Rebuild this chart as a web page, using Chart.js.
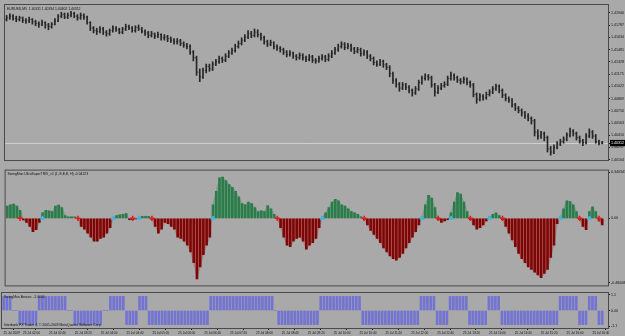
<!DOCTYPE html>
<html>
<head>
<meta charset="utf-8">
<script src="https://cdn.jsdelivr.net/npm/chart.js@4.4.0/dist/chart.umd.min.js"></script>
<style>
  body { margin: 0; background: #a9a9a9; width: 625px; height: 336px; overflow: hidden; position: relative; }
  canvas { position: absolute; left: 0; }
</style>
</head>
<body>
<canvas id="price" width="625" height="165" style="top:0"></canvas>
<canvas id="trix" width="625" height="126" style="top:165px"></canvas>
<canvas id="arrows" width="625" height="45" style="top:291px"></canvas>
<script>
// EURUSD M5, 25 Jul 2009, one entry per bar
const opens = [1.4186,1.4188,1.4190,1.4187,1.4186,1.4188,1.4185,1.4184,1.4186,1.4183,1.4181,1.4180,1.4182,1.4179,1.4177,1.4180,1.4184,1.4190,1.4192,1.4189,
  1.4191,1.4193,1.4190,1.4188,1.4191,1.4189,1.4182,1.4175,1.4172,1.4171,1.4174,1.4170,1.4168,1.4172,1.4175,1.4173,1.4170,1.4174,1.4177,1.4175,
  1.4172,1.4176,1.4174,1.4171,1.4169,1.4166,1.4168,1.4165,1.4167,1.4163,1.4164,1.4162,1.4160,1.4158,1.4159,1.4156,1.4154,1.4152,1.4145,1.4138,
  1.4120,1.4114,1.4122,1.4127,1.4124,1.4130,1.4133,1.4137,1.4135,1.4140,1.4144,1.4147,1.4152,1.4156,1.4160,1.4164,1.4168,1.4166,1.4170,1.4167,
  1.4163,1.4158,1.4155,1.4157,1.4152,1.4150,1.4148,1.4145,1.4142,1.4144,1.4140,1.4138,1.4141,1.4138,1.4136,1.4139,1.4135,1.4134,1.4137,1.4139,
  1.4136,1.4140,1.4144,1.4148,1.4152,1.4155,1.4151,1.4153,1.4149,1.4146,1.4148,1.4143,1.4145,1.4140,1.4137,1.4132,1.4130,1.4133,1.4129,1.4126,
  1.4118,1.4110,1.4105,1.4100,1.4104,1.4101,1.4097,1.4094,1.4099,1.4107,1.4112,1.4115,1.4113,1.4104,1.4095,1.4100,1.4103,1.4105,1.4112,1.4116,
  1.4113,1.4110,1.4108,1.4111,1.4107,1.4104,1.4092,1.4086,1.4090,1.4088,1.4092,1.4095,1.4099,1.4102,1.4097,1.4091,1.4087,1.4085,1.4079,1.4075,
  1.4072,1.4069,1.4065,1.4062,1.4059,1.4045,1.4040,1.4043,1.4038,1.4024,1.4020,1.4026,1.4030,1.4033,1.4036,1.4041,1.4046,1.4043,1.4038,1.4034,
  1.4032,1.4040,1.4045,1.4040,1.4033,1.40311];
const highs = [1.4191,1.4193,1.4192,1.4190,1.4190,1.4189,1.4187,1.4189,1.4187,1.4185,1.4183,1.4185,1.4183,1.4181,1.4182,1.4187,1.4192,1.4195,1.4194,1.4194,
  1.4196,1.4195,1.4192,1.4194,1.4193,1.4190,1.4183,1.4177,1.4175,1.4177,1.4176,1.4172,1.4174,1.4178,1.4177,1.4175,1.4176,1.4180,1.4179,1.4177,
  1.4178,1.4179,1.4176,1.4173,1.4171,1.4171,1.4169,1.4170,1.4168,1.4167,1.4166,1.4164,1.4162,1.4162,1.4161,1.4158,1.4156,1.4154,1.4147,1.4140,
  1.4124,1.4125,1.4130,1.4130,1.4133,1.4136,1.4140,1.4139,1.4143,1.4147,1.4150,1.4155,1.4159,1.4163,1.4167,1.4172,1.4171,1.4174,1.4173,1.4169,
  1.4165,1.4160,1.4160,1.4158,1.4154,1.4152,1.4150,1.4147,1.4147,1.4145,1.4142,1.4144,1.4143,1.4140,1.4142,1.4141,1.4137,1.4140,1.4142,1.4141,
  1.4143,1.4147,1.4151,1.4155,1.4158,1.4157,1.4156,1.4155,1.4151,1.4151,1.4150,1.4148,1.4147,1.4142,1.4139,1.4134,1.4136,1.4135,1.4131,1.4128,
  1.4120,1.4112,1.4107,1.4107,1.4106,1.4103,1.4099,1.4102,1.4110,1.4115,1.4118,1.4117,1.4115,1.4106,1.4103,1.4106,1.4108,1.4115,1.4120,1.4118,
  1.4115,1.4112,1.4114,1.4113,1.4109,1.4106,1.4094,1.4093,1.4092,1.4095,1.4098,1.4102,1.4105,1.4104,1.4099,1.4093,1.4089,1.4087,1.4081,1.4077,
  1.4074,1.4071,1.4068,1.4064,1.4061,1.4048,1.4046,1.4045,1.4040,1.4027,1.4029,1.4033,1.4036,1.4039,1.4044,1.4050,1.4048,1.4045,1.4040,1.4036,
  1.4043,1.4049,1.4047,1.4042,1.4035,1.40334];
const lows = [1.4184,1.4186,1.4185,1.4183,1.4184,1.4182,1.4181,1.4182,1.4180,1.4178,1.4176,1.4178,1.4175,1.4173,1.4175,1.4179,1.4183,1.4188,1.4187,1.4187,
  1.4189,1.4188,1.4185,1.4186,1.4186,1.4180,1.4172,1.4169,1.4167,1.4169,1.4167,1.4165,1.4166,1.4170,1.4171,1.4168,1.4168,1.4172,1.4173,1.4170,
  1.4170,1.4172,1.4169,1.4166,1.4163,1.4164,1.4162,1.4163,1.4160,1.4160,1.4158,1.4157,1.4155,1.4155,1.4153,1.4151,1.4149,1.4142,1.4134,1.4116,
  1.4108,1.4112,1.4119,1.4121,1.4122,1.4128,1.4131,1.4132,1.4133,1.4138,1.4142,1.4145,1.4150,1.4154,1.4158,1.4162,1.4163,1.4164,1.4164,1.4160,
  1.4155,1.4152,1.4153,1.4149,1.4147,1.4145,1.4142,1.4139,1.4140,1.4137,1.4135,1.4136,1.4135,1.4133,1.4134,1.4132,1.4131,1.4132,1.4135,1.4133,
  1.4134,1.4138,1.4142,1.4146,1.4150,1.4148,1.4149,1.4146,1.4143,1.4144,1.4140,1.4141,1.4137,1.4134,1.4129,1.4127,1.4128,1.4126,1.4123,1.4114,
  1.4106,1.4101,1.4096,1.4098,1.4098,1.4094,1.4090,1.4092,1.4097,1.4105,1.4110,1.4110,1.4101,1.4090,1.4093,1.4098,1.4101,1.4103,1.4110,1.4110,
  1.4107,1.4105,1.4106,1.4104,1.4101,1.4089,1.4081,1.4084,1.4085,1.4086,1.4090,1.4093,1.4097,1.4094,1.4088,1.4084,1.4082,1.4076,1.4072,1.4069,
  1.4065,1.4062,1.4059,1.4055,1.4040,1.4036,1.4037,1.4034,1.4020,1.4016,1.4018,1.4024,1.4028,1.4031,1.4034,1.4039,1.4040,1.4035,1.4031,1.4028,
  1.4030,1.4038,1.4037,1.4031,1.4029,1.40302];
const closes = [1.4188,1.4190,1.4187,1.4186,1.4188,1.4185,1.4184,1.4186,1.4183,1.4181,1.4180,1.4182,1.4179,1.4177,1.4180,1.4184,1.4190,1.4192,1.4189,1.4191,
  1.4193,1.4190,1.4188,1.4191,1.4189,1.4182,1.4175,1.4172,1.4171,1.4174,1.4170,1.4168,1.4172,1.4175,1.4173,1.4170,1.4174,1.4177,1.4175,1.4172,
  1.4176,1.4174,1.4171,1.4169,1.4166,1.4168,1.4165,1.4167,1.4163,1.4164,1.4162,1.4160,1.4158,1.4159,1.4156,1.4154,1.4152,1.4145,1.4138,1.4120,
  1.4114,1.4122,1.4127,1.4124,1.4130,1.4133,1.4137,1.4135,1.4140,1.4144,1.4147,1.4152,1.4156,1.4160,1.4164,1.4168,1.4166,1.4170,1.4167,1.4163,
  1.4158,1.4155,1.4157,1.4152,1.4150,1.4148,1.4145,1.4142,1.4144,1.4140,1.4138,1.4141,1.4138,1.4136,1.4139,1.4135,1.4134,1.4137,1.4139,1.4136,
  1.4140,1.4144,1.4148,1.4152,1.4155,1.4151,1.4153,1.4149,1.4146,1.4148,1.4143,1.4145,1.4140,1.4137,1.4132,1.4130,1.4133,1.4129,1.4126,1.4118,
  1.4110,1.4105,1.4100,1.4104,1.4101,1.4097,1.4094,1.4099,1.4107,1.4112,1.4115,1.4113,1.4104,1.4095,1.4100,1.4103,1.4105,1.4112,1.4116,1.4113,
  1.4110,1.4108,1.4111,1.4107,1.4104,1.4092,1.4086,1.4090,1.4088,1.4092,1.4095,1.4099,1.4102,1.4097,1.4091,1.4087,1.4085,1.4079,1.4075,1.4072,
  1.4069,1.4065,1.4062,1.4059,1.4045,1.4040,1.4043,1.4038,1.4024,1.4020,1.4026,1.4030,1.4033,1.4036,1.4041,1.4046,1.4043,1.4038,1.4034,1.4032,
  1.4040,1.4045,1.4040,1.4033,1.4031,1.40312];

// SwingMan UltraSuperTRIX histogram
const trix = [0.09,0.10,0.105,0.09,0.06,-0.012,-0.03,-0.06,-0.1,-0.085,-0.03,0.04,0.06,0.055,0.05,0.09,0.098,0.08,0.02,0.01,
  0.01,0.01,-0.005,-0.06,-0.08,-0.11,-0.14,-0.17,-0.17,-0.15,-0.14,-0.11,-0.07,0.005,0.02,0.025,0.03,0.035,-0.01,-0.01,
  -0.005,0.005,0.015,0.015,0.015,-0.01,-0.06,-0.11,-0.08,-0.03,-0.04,-0.06,-0.08,-0.14,-0.15,-0.17,-0.2,-0.25,-0.33,-0.45,
  -0.36,-0.27,-0.2,-0.14,0.1,0.2,0.3,0.305,0.28,0.25,0.23,0.2,0.16,0.11,0.1,0.12,0.11,0.08,0.05,0.055,
  0.05,0.095,0.07,0.03,-0.005,-0.07,-0.14,-0.2,-0.21,-0.17,-0.15,-0.14,-0.17,-0.23,-0.2,-0.18,-0.15,-0.07,0.01,0.04,
  0.08,0.12,0.14,0.13,0.1,0.09,0.07,0.05,0.04,0.03,0.01,-0.01,-0.05,-0.09,-0.12,-0.15,-0.18,-0.22,-0.25,-0.28,
  -0.3,-0.31,-0.29,-0.26,-0.22,-0.18,-0.14,-0.1,-0.05,0.01,0.1,0.17,0.15,0.08,-0.01,-0.03,-0.02,-0.01,0.04,0.12,
  0.19,0.18,0.12,0.05,-0.01,-0.05,-0.08,-0.07,-0.05,-0.02,0.01,0.03,0.04,0.02,-0.01,-0.06,-0.11,-0.16,-0.21,-0.26,
  -0.3,-0.33,-0.36,-0.38,-0.4,-0.42,-0.44,-0.41,-0.38,-0.29,-0.2,-0.04,0.01,0.07,0.13,0.125,0.1,0.05,-0.01,-0.06,
  -0.085,0.05,0.085,0.05,-0.02,-0.05];
const arrowUpBars = [11, 33, 41, 64, 98, 129, 138, 150, 172, 181];
const arrowDownBars = [4, 22, 39, 45, 84, 111, 134, 144, 154, 178, 184];

// SwingMan Arrows: +1 / -1 per bar (0 = nothing drawn)
const signal = [1,1,1,0,0,-1,-1,-1,-1,-1,-1,1,1,1,1,1,1,1,1,1,
  0,0,-1,-1,-1,-1,-1,-1,-1,-1,-1,0,0,1,1,1,1,1,-1,-1,
  -1,-1,1,1,1,-1,-1,-1,-1,-1,-1,-1,-1,-1,-1,-1,-1,-1,-1,-1,
  -1,-1,-1,-1,1,1,1,1,1,1,1,1,1,1,1,1,1,1,1,1,
  1,1,1,1,0,-1,-1,-1,-1,-1,-1,-1,-1,-1,-1,-1,-1,-1,1,1,
  1,1,1,1,1,1,1,1,1,1,1,-1,-1,-1,-1,-1,-1,-1,-1,-1,
  -1,-1,-1,-1,-1,-1,-1,-1,-1,1,1,1,1,1,-1,-1,-1,-1,1,1,
  1,1,1,1,-1,-1,-1,-1,-1,-1,1,1,1,1,-1,-1,-1,-1,-1,-1,
  -1,-1,-1,-1,-1,-1,-1,-1,-1,-1,-1,-1,1,1,1,1,1,1,-1,-1,
  -1,1,1,1,-1,-1];

const priceTicks = [1.41940,1.41787,1.41634,1.41481,1.41328,1.41175,1.41022,1.40869,1.40716,1.40563,1.40410,1.40257,1.40104];
const bid = 1.40312;
const trixTicks = [0.340341, 0, -0.480085];
const trixTickLabels = ["0.340341", "0.00", "-0.480085"];
const signalTicks = [1.1, 0, -1.1];
const signalTickLabels = ["1.1", "0.00", "-1.1"];

const timeBars = [0, 6, 14, 22, 30, 38, 46, 54, 62, 70, 78, 86, 94, 102, 110, 118, 126, 134, 142, 150, 158, 166, 174, 182];
const timeLabels = ["25 Jul 2009", "25 Jul 02:00", "25 Jul 02:40", "25 Jul 03:20", "25 Jul 04:00", "25 Jul 04:40",
  "25 Jul 05:20", "25 Jul 06:00", "25 Jul 06:40", "25 Jul 07:20", "25 Jul 08:00", "25 Jul 08:40", "25 Jul 09:20",
  "25 Jul 10:00", "25 Jul 10:40", "25 Jul 11:20", "25 Jul 12:00", "25 Jul 12:40", "25 Jul 13:20", "25 Jul 14:00",
  "25 Jul 14:40", "25 Jul 15:20", "25 Jul 16:00", "25 Jul 16:40"];

const priceTitle = "EURUSD,M5  1.40311 1.40334 1.40302 1.40312";
const trixTitle = "SwingMan UltraSuperTRIX_v1 (1, E,E,E, H) -0.04223";
const signalTitle = "SwingMan Arrows  -1.0000";
const copyright = "Interbank FX Trader 4, \u00a9 2001-2009 MetaQuotes Software Corp.";

const BG = "#a9a9a9";
const FRAME = "#4a4a4a";
const FONT = "Liberation Sans";

function panel(title, extra) {
  return {
    id: "panel",
    beforeDraw(chart) {
      const { ctx } = chart;
      ctx.save();
      ctx.fillStyle = BG;
      ctx.fillRect(0, 0, chart.width, chart.height);
      ctx.restore();
    },
    afterDraw(chart) {
      const { ctx, chartArea: a } = chart;
      ctx.save();
      ctx.strokeStyle = FRAME;
      ctx.lineWidth = 1;
      ctx.strokeRect(a.left - 0.5, a.top - 0.5, a.right - a.left + 1, a.bottom - a.top + 1);
      ctx.fillStyle = "#111";
      ctx.font = "3.4px '" + FONT + "'";
      ctx.textBaseline = "top";
      ctx.fillText(title, a.left + 2, a.top + 2);
      if (extra) ctx.fillText(extra, a.left + 2, a.bottom - 5);
      ctx.restore();
    },
  };
}

function xAxis(show) {
  return {
    type: "linear",
    min: -0.5,
    max: 186.8,
    display: show,
    offset: false,
  };
}

function rightAxis(min, max, ticks, labels, extra) {
  return Object.assign({
    position: "right",
    min: min,
    max: max,
    afterFit(scale) {
      scale.width = 17;
      scale.paddingTop = 0;
      scale.paddingBottom = 0;
    },
    afterBuildTicks(scale) {
      scale.ticks = ticks.map((v) => ({ value: v }));
    },
    border: { display: false },
    grid: { drawOnChartArea: false, tickLength: 2, tickColor: "#222" },
    ticks: {
      padding: 1,
      color: "#111",
      font: { family: FONT, size: 3.6 },
      callback: (v, i) => labels[i],
    },
  }, extra || {});
}

const bars = closes.map((c, i) => i);
const common = {
  responsive: false,
  animation: false,
  events: [],
  plugins: { legend: { display: false }, tooltip: { enabled: false } },
};

// price panel
new Chart(document.getElementById("price"), {
  type: "bar",
  data: {
    datasets: [
      {
        type: "bar",
        data: bars.map((i) => ({ x: i, y: [lows[i], highs[i]] })),
        backgroundColor: "#262626",
        barThickness: 1,
        grouped: false,
      },
      {
        type: "line",
        data: bars.map((i) => ({ x: i, y: opens[i] })),
        showLine: false,
        pointStyle: "dash",
        rotation: 180,
        pointRadius: 1.1,
        pointBorderWidth: 1,
        pointBorderColor: "#262626",
      },
      {
        type: "line",
        data: bars.map((i) => ({ x: i, y: closes[i] })),
        showLine: false,
        pointStyle: "dash",
        pointRadius: 1.1,
        pointBorderWidth: 1,
        pointBorderColor: "#262626",
      },
    ],
  },
  options: Object.assign({}, common, {
    layout: { padding: { left: 2, top: 1, bottom: 1, right: 0 } },
    scales: {
      x: xAxis(false),
      y: rightAxis(1.401, 1.4204, priceTicks.concat([bid]), priceTicks.map((v) => v.toFixed(5)).concat([bid.toFixed(5)]), {
        grid: {
          drawOnChartArea: true,
          tickLength: 2,
          tickColor: "#222",
          color: (ctx) => (ctx.tick && ctx.tick.value === bid ? "#cfcfcf" : "rgba(0,0,0,0)"),
        },
        ticks: {
          padding: 1,
          font: { family: FONT, size: 3.6 },
          color: (ctx) => (ctx.tick && ctx.tick.value === bid ? "#fff" : "#111"),
          showLabelBackdrop: (ctx) => ctx.tick && ctx.tick.value === bid,
          backdropColor: "#000",
          backdropPadding: 1,
          callback: (v) => v.toFixed(5),
        },
      }),
    },
  }),
  plugins: [panel(priceTitle)],
});

// indicator panel
new Chart(document.getElementById("trix"), {
  type: "bar",
  data: {
    datasets: [
      {
        type: "bar",
        data: bars.map((i) => ({ x: i, y: trix[i] })),
        backgroundColor: (ctx) => (ctx.raw && ctx.raw.y >= 0 ? "#2e7a4c" : "#7c0606"),
        barThickness: 2,
        grouped: false,
        order: 1,
      },
      {
        type: "line",
        data: bars.map((i) => ({ x: i, y: trix[i] })),
        borderColor: "rgba(110,125,115,0.7)",
        borderWidth: 0.6,
        pointRadius: 0,
        fill: { target: "origin", above: "#73ad88", below: "#c28080" },
        order: 2,
      },
      {
        type: "line",
        data: arrowUpBars.map((i) => ({ x: i, y: 0 })),
        showLine: false,
        pointStyle: "triangle",
        pointRadius: 2.4,
        pointBackgroundColor: "#43b7e6",
        pointBorderColor: "#43b7e6",
        order: 0,
      },
      {
        type: "line",
        data: arrowDownBars.map((i) => ({ x: i, y: 0 })),
        showLine: false,
        pointStyle: "cross",
        pointRadius: 2.6,
        pointBorderWidth: 1.6,
        pointBorderColor: "#e01e1e",
        order: 0,
      },
    ],
  },
  options: Object.assign({}, common, {
    layout: { padding: { left: 2, top: 1, bottom: 1, right: 0 } },
    scales: {
      x: xAxis(false),
      y: rightAxis(-0.498, 0.354, trixTicks, trixTickLabels),
    },
  }),
  plugins: [panel(trixTitle)],
});

// arrows panel with the time axis
new Chart(document.getElementById("arrows"), {
  type: "bar",
  data: {
    datasets: [
      {
        data: bars.map((i) => ({ x: i, y: signal[i] })),
        backgroundColor: "#7373d2",
        barThickness: 2,
      },
    ],
  },
  options: Object.assign({}, common, {
    layout: { padding: { left: 2, top: 2, bottom: 0, right: 0 } },
    scales: {
      x: Object.assign(xAxis(true), {
        position: "bottom",
        afterBuildTicks(scale) {
          scale.ticks = timeBars.map((v) => ({ value: v }));
        },
        afterFit(scale) {
          scale.height = 8;
          scale.paddingLeft = 0;
          scale.paddingRight = 0;
        },
        border: { display: false },
        grid: { drawOnChartArea: false, tickLength: 2, tickColor: "#222" },
        ticks: {
          autoSkip: false,
          maxRotation: 0,
          align: "start",
          padding: 1,
          color: "#111",
          font: { family: FONT, size: 3.1 },
          callback: (v, i) => timeLabels[i],
        },
      }),
      y: rightAxis(-1.241, 1.241, signalTicks, signalTickLabels),
    },
  }),
  plugins: [panel(signalTitle, copyright)],
});
</script>
</body>
</html>
